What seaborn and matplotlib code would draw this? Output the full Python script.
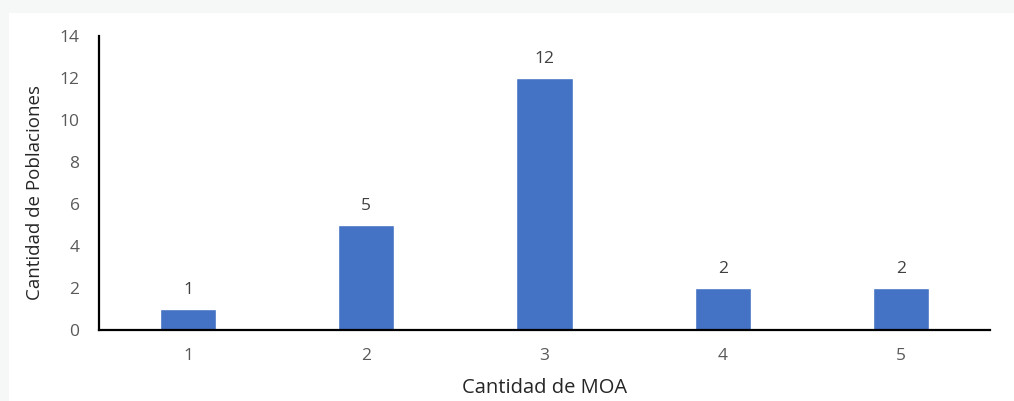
import matplotlib
matplotlib.use("Agg")
import matplotlib.pyplot as plt
from matplotlib.patches import Rectangle
import seaborn as sns
import pandas as pd

categories = ["1", "2", "3", "4", "5"]
values = [1, 5, 12, 2, 2]
y_ticks = [0, 2, 4, 6, 8, 10, 12, 14]

sns.set_theme(style="white")
plt.rcParams["font.family"] = ["Open Sans", "DejaVu Sans"]

df = pd.DataFrame({"moa": categories, "poblaciones": values})

fig = plt.figure(figsize=(10.14, 4.01), dpi=100)
fig.patch.set_facecolor("#f6f8f8")
fig.add_artist(Rectangle((9 / 1014, 0), 1 - 9 / 1014, 1 - 13 / 401,
                         transform=fig.transFigure, facecolor="white",
                         edgecolor="none", zorder=0))

ax = fig.add_axes([0.0976, 0.177, 0.8787, 0.733])
ax.set_facecolor("white")
sns.barplot(data=df, x="moa", y="poblaciones", color="#4472C4",
            saturation=1, width=0.315, ax=ax)

for i, v in enumerate(values):
    ax.annotate(str(v), (i, v), xytext=(0, 8), textcoords="offset points",
                ha="center", va="bottom", fontsize=12.5, color="#404040")

ax.set_xlim(-0.5, 4.5)
ax.set_ylim(0, 14)
ax.set_yticks(y_ticks)
ax.tick_params(axis="both", length=0, labelsize=12.5, colors="#595959")
ax.tick_params(axis="x", pad=13)
ax.tick_params(axis="y", pad=14)
ax.set_xlabel("Cantidad de MOA", fontsize=14.5, color="#262626", labelpad=10)
ax.set_ylabel("Cantidad de Poblaciones", fontsize=13.5, color="#262626")
ax.yaxis.set_label_coords(-0.062, 0.469)

for side in ["top", "right"]:
    ax.spines[side].set_visible(False)
for side in ["left", "bottom"]:
    ax.spines[side].set_color("black")
    ax.spines[side].set_linewidth(1.6)

fig.savefig("out.png", dpi=100, facecolor=fig.get_facecolor())
